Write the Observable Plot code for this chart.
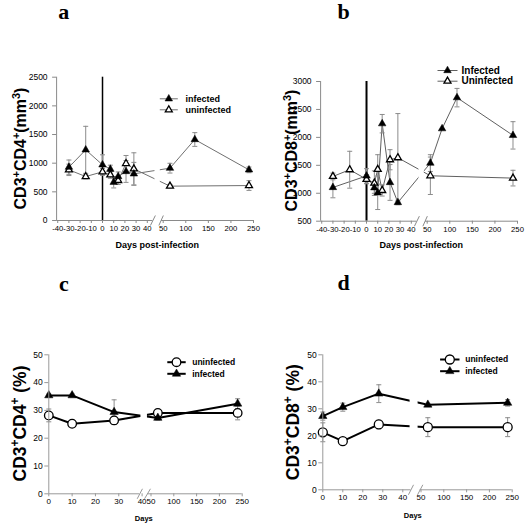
<!DOCTYPE html>
<html><head><meta charset="utf-8">
<script src="https://cdn.jsdelivr.net/npm/d3@7"></script>
<script src="https://cdn.jsdelivr.net/npm/@observablehq/plot@0.6"></script>
<style>
html,body{margin:0;padding:0;background:#fff;}
#root{position:relative;width:528px;height:525px;overflow:hidden;}
.panel{position:absolute;}
.panel svg{display:block;}
</style></head><body><div id="root"></div>
<script>
// ---------------- data ----------------
// Panel a: CD3+CD4+ (cells/mm3)
const daysA_inf = [-30, -15, 0, 7, 10, 14, 21, 28, 65, 120, 240];
const valA_inf  = [930, 1233, 971, 895, 668, 767, 855, 814, 913, 1413, 884];
const errA_inf  = [125, 410, 175, 70, 100, 80, 190, 200, 85, 120, 50];
const daysA_un  = [-30, -15, 0, 7, 14, 21, 28, 65, 240];
const valA_un   = [884, 767, 849, 797, 698, 994, 901, 599, 610];
const errA_un   = [100, 40, 60, 60, 70, 140, 280, 30, 85];

// Panel b: CD3+CD8+ (cells/mm3)
const daysB_inf = [-30, 0, 7, 10, 14, 21, 28, 57, 83, 116, 240];
const valB_inf  = [1104, 1310, 1099, 1009, 2245, 1193, 835, 1540, 2156, 2711, 2036];
const errB_inf  = [185, 130, 100, 300, 165, 320, 40, 150, 0, 165, 245];
const daysB_un  = [-30, -15, 0, 7, 10, 14, 21, 28, 57, 240];
const valB_un   = [1301, 1421, 1250, 1181, 1427, 1050, 1600, 1636, 1313, 1271];
const errB_un   = [60, 330, 80, 220, 263, 100, 180, 790, 335, 140];

// Panels c, d: percentages
const daysCD    = [0, 10, 28, 65, 240];
const valC_un   = [28.2, 25.2, 26.4, 29.1, 29.1];
const errC_un   = [2.3, 0.5, 1.5, 0.8, 2.5];
const valC_inf  = [35.4, 35.4, 29.4, 27.3, 32.4];
const errC_inf  = [0.5, 0.5, 4.4, 0.8, 1.8];
const valD_un   = [21.3, 18.0, 24.2, 23.2, 23.2];
const errD_un   = [3.5, 0.5, 1.6, 3.5, 3.5];
const valD_inf  = [27.3, 30.6, 35.6, 31.5, 32.2];
const errD_inf  = [1.5, 1.5, 3.3, 0.5, 1.2];

// tick labels
const ticksAB_x = [-40, -30, -20, -10, 0, 10, 20, 30, 40, 50, 100, 150, 200, 250];
const ticksCD_x = [0, 10, 20, 30, 40, 50, 100, 150, 200, 250];
const ticksA_y  = [0, 500, 1000, 1500, 2000, 2500];
const ticksB_y  = [500, 1000, 1500, 2000, 2500, 3000];
const ticksCD_y = [0, 10, 20, 30, 40, 50];

// text
const lettersTxt = ["a", "b", "c", "d"];
const titleA = [["CD3"], ["+", 1], ["CD4"], ["+", 1], ["(mm"], ["3", 1], [")"]];
const titleB = [["CD3"], ["+", 1], ["CD8"], ["+", 1], ["(mm"], ["3", 1], [")"]];
const titleC = [["CD3"], ["+", 1], ["CD4"], ["+", 1], [" (%)"]];
const titleD = [["CD3"], ["+", 1], ["CD8"], ["+", 1], [" (%)"]];
const xTitleAB = "Days post-infection";
const xTitleCD = "Days";
const legendA = ["infected", "uninfected"];
const legendB = ["Infected", "Uninfected"];
const legendCD = ["uninfected", "infected"];

// ---------------- helpers ----------------
const rows = (days, vals, errs) => days.map((d, i) => ({day: d, v: vals[i], e: errs[i], lo: vals[i] - errs[i], hi: vals[i] + errs[i]}));
const hline = {draw(ctx, size) { const h = Math.sqrt(size / Math.PI); ctx.moveTo(-h, 0); ctx.lineTo(h, 0); }};
const SANS = "'Liberation Sans', Arial, Helvetica, sans-serif";
const SERIF = "'Liberation Serif', 'Times New Roman', serif";
const ERR = "#8c8c8c";

function makePanel(cfg) {
  const {width, height, mL, mR, mT, mB, xDomain, xRange, yDomain, xTicks, yTicks, series, brk, zeroLine, axisColor} = cfg;
  const at = (px, py) => ({frameAnchor: "top-left", dx: px - mL, dy: py - mT, lineAnchor: "middle"});
  const y0 = yDomain[0], y1 = yDomain[1];
  const marks = [];
  for (const s of series) marks.push(Plot.line(s.rows, {x: "day", y: "v", stroke: s.lineColor, strokeWidth: s.lineWidth}));
  marks.push(Plot.rect([0], {x1: brk.gap[0], x2: brk.gap[1], y1: y0, y2: y1, fill: "white"}));
  if (zeroLine) marks.push(Plot.ruleX([0], {y1: y0, y2: y1, stroke: "black", strokeWidth: zeroLine}));
  for (const s of series) {
    const er = s.rows.filter(d => d.e > 0);
    marks.push(Plot.ruleX(er, {x: "day", y1: "lo", y2: "hi", stroke: ERR, strokeWidth: 1}));
    marks.push(Plot.dot(er, {x: "day", y: "lo", symbol: hline, r: cfg.capR, stroke: ERR, fill: "none", strokeWidth: 1}));
    marks.push(Plot.dot(er, {x: "day", y: "hi", symbol: hline, r: cfg.capR, stroke: ERR, fill: "none", strokeWidth: 1}));
  }
  for (const s of series) marks.push(Plot.dot(s.rows, {x: "day", y: "v", symbol: s.symbol, r: s.r, fill: s.fill, stroke: "black", strokeWidth: s.sw}));
  // axes
  marks.push(Plot.ruleX([xDomain[0]], {y1: y0, y2: y1, stroke: axisColor}));
  marks.push(Plot.ruleY([y0], {x1: xDomain[0], x2: brk.leftEnd, stroke: axisColor}));
  marks.push(Plot.ruleY([y0], {x1: brk.rightStart, x2: xDomain[xDomain.length - 1], stroke: axisColor}));
  marks.push(Plot.link(brk.marks, {x1: d => d[0], x2: d => d[1], y1: y0 - brk.dy, y2: y0 + brk.dy, stroke: axisColor}));
  marks.push(Plot.axisX({ticks: xTicks, tickFormat: d => String(d), tickSize: 3, tickPadding: 2, fontSize: cfg.xTickFs, stroke: axisColor, label: null}));
  marks.push(Plot.axisY({ticks: yTicks, tickFormat: d => String(d), tickSize: 4, tickPadding: cfg.yPad, fontSize: cfg.yTickFs, stroke: axisColor, label: null}));
  // legend
  cfg.legend.rows.forEach((r) => {
    const L = cfg.legend;
    marks.push(Plot.dot([0], {...at(L.lineCx, r.y), symbol: hline, r: L.lineR, stroke: r.lineColor, strokeWidth: r.lineWidth, fill: "none"}));
    marks.push(Plot.dot([0], {...at(L.lineCx, r.y), symbol: r.symbol, r: r.r, fill: r.fill, stroke: "black", strokeWidth: r.sw}));
    marks.push(Plot.text([r.text], {...at(L.textX, r.y), text: d => d, textAnchor: "start", fontSize: L.fs, fontWeight: "bold", fill: "black"}));
  });
  // letter, titles
  marks.push(Plot.text([cfg.letter.t], {...at(cfg.letter.x, cfg.letter.y), text: d => d, textAnchor: "middle", fontFamily: SERIF, fontWeight: "bold", fontSize: 22, fill: "black"}));
  const ytStr = cfg.yTitle.parts.map(p => p[0]).join("");
  marks.push(Plot.text([ytStr], {...at(cfg.yTitle.x, cfg.yTitle.y), text: d => d, textAnchor: "middle", rotate: -90, fontSize: cfg.yTitle.fs, fontWeight: "bold", fill: "black"}));
  marks.push(Plot.text([cfg.xTitle.t], {...at(cfg.xTitle.x, cfg.xTitle.y), text: d => d, textAnchor: "middle", fontSize: cfg.xTitle.fs, fontWeight: "bold", fill: "black"}));

  const svg = Plot.plot({
    width, height, marginLeft: mL, marginRight: mR, marginTop: mT, marginBottom: mB,
    x: {type: "linear", domain: xDomain, range: xRange, label: null},
    y: {type: "linear", domain: yDomain, label: null},
    style: {fontFamily: SANS, background: "white", color: "black", overflow: "visible"},
    marks
  });
  // superscripts in y title
  const ns = "http://www.w3.org/2000/svg";
  svg.querySelectorAll("text").forEach(t => {
    if (t.textContent === ytStr && !t.querySelector("tspan")) {
      t.textContent = "";
      for (const [s, sup] of cfg.yTitle.parts) {
        const ts = document.createElementNS(ns, "tspan");
        ts.textContent = s;
        if (sup) { ts.setAttribute("baseline-shift", "super"); ts.setAttribute("font-size", "68%"); }
        t.appendChild(ts);
      }
    }
  });
  const div = document.createElement("div");
  div.className = "panel";
  div.style.left = cfg.left + "px";
  div.style.top = cfg.top + "px";
  div.appendChild(svg);
  document.getElementById("root").appendChild(div);
}

const abX = {xDomain: [-41, 45, 50, 250], xRange: [56.1, 152.4, 162.7, 253]};
const abBrk = (dy) => ({gap: [46, 48.6], leftEnd: 45, rightStart: 49.2, marks: [[42.8, 46.2], [47.9, 50.3]], dy});

// ---------- panel a ----------
makePanel({
  left: 0, top: 0, width: 264, height: 260, mL: 56.1, mR: 11, mT: 76.7, mB: 40,
  ...abX, yDomain: [0, 2500], xTicks: ticksAB_x, yTicks: ticksA_y,
  xTickFs: 7.7, yTickFs: 8.5, yPad: 5, capR: 2.5, axisColor: "#8a8a8a", zeroLine: 1.5,
  brk: abBrk(87),
  series: [
    {rows: rows(daysA_un, valA_un, errA_un), lineColor: "#707070", lineWidth: 1, symbol: "triangle", r: 2.6, fill: "white", sw: 1.3},
    {rows: rows(daysA_inf, valA_inf, errA_inf), lineColor: "#707070", lineWidth: 1, symbol: "triangle", r: 2.8, fill: "black", sw: 0.5}
  ],
  legend: {lineCx: 168.3, lineR: 9, textX: 185, fs: 9, rows: [
    {y: 98.3, text: legendA[0], lineColor: "#707070", lineWidth: 1, symbol: "triangle", r: 2.8, fill: "black", sw: 0.5},
    {y: 109.3, text: legendA[1], lineColor: "#707070", lineWidth: 1, symbol: "triangle", r: 2.6, fill: "white", sw: 1.3}
  ]},
  letter: {t: lettersTxt[0], x: 63.3, y: 11.3},
  yTitle: {parts: titleA, x: 20.5, y: 148, fs: 16},
  xTitle: {t: xTitleAB, x: 156.7, y: 244.6, fs: 9}
});

// ---------- panel b ----------
makePanel({
  left: 264, top: 0, width: 264, height: 260, mL: 56.1, mR: 11, mT: 81, mB: 39.3,
  ...abX, yDomain: [500, 3000], xTicks: ticksAB_x, yTicks: ticksB_y,
  xTickFs: 7.7, yTickFs: 8.5, yPad: 5, capR: 2.5, axisColor: "#8a8a8a", zeroLine: 2,
  brk: abBrk(90),
  series: [
    {rows: rows(daysB_un, valB_un, errB_un), lineColor: "#606060", lineWidth: 1, symbol: "triangle", r: 2.6, fill: "white", sw: 1.3},
    {rows: rows(daysB_inf, valB_inf, errB_inf), lineColor: "#606060", lineWidth: 1, symbol: "triangle", r: 2.8, fill: "black", sw: 0.5}
  ],
  legend: {lineCx: 183, lineR: 10, textX: 197, fs: 10, rows: [
    {y: 70, text: legendB[0], lineColor: "#606060", lineWidth: 1, symbol: "triangle", r: 2.8, fill: "black", sw: 0.5},
    {y: 80.7, text: legendB[1], lineColor: "#606060", lineWidth: 1, symbol: "triangle", r: 2.6, fill: "white", sw: 1.3}
  ]},
  letter: {t: lettersTxt[1], x: 79, y: 11.3},
  yTitle: {parts: titleB, x: 27.5, y: 150, fs: 16},
  xTitle: {t: xTitleAB, x: 156.7, y: 244.6, fs: 9}
});

// ---------- panel c ----------
makePanel({
  left: 0, top: 260, width: 264, height: 265, mL: 48.3, mR: 22.3, mT: 94.3, mB: 31.7,
  xDomain: [0, 40, 50, 250], xRange: [48.3, 141.6, 150.5, 241.7], yDomain: [0, 50],
  xTicks: ticksCD_x, yTicks: ticksCD_y,
  xTickFs: 8, yTickFs: 8.5, yPad: 2, capR: 2.5, axisColor: "#999999", zeroLine: 0,
  brk: {gap: [39.5, 46], leftEnd: 39, rightStart: 46.5, marks: [[37.9, 40.4], [42.7, 49.4]], dy: 1.8},
  series: [
    {rows: rows(daysCD, valC_un, errC_un), lineColor: "black", lineWidth: 2, symbol: "circle", r: 4.3, fill: "white", sw: 1.3},
    {rows: rows(daysCD, valC_inf, errC_inf), lineColor: "black", lineWidth: 2, symbol: "triangle", r: 3.1, fill: "black", sw: 0.5}
  ],
  legend: {lineCx: 176, lineR: 9.2, textX: 191.7, fs: 8.5, rows: [
    {y: 101.7, text: legendCD[0], lineColor: "black", lineWidth: 2, symbol: "circle", r: 4.3, fill: "white", sw: 1.3},
    {y: 113.3, text: legendCD[1], lineColor: "black", lineWidth: 2, symbol: "triangle", r: 3.1, fill: "black", sw: 0.5}
  ]},
  letter: {t: lettersTxt[2], x: 63.3, y: 23},
  yTitle: {parts: titleC, x: 19.5, y: 163, fs: 17.5},
  xTitle: {t: xTitleCD, x: 143.3, y: 257.6, fs: 7.5}
});

// ---------- panel d ----------
makePanel({
  left: 264, top: 260, width: 264, height: 265, mL: 58.3, mR: 16.3, mT: 94.3, mB: 35.7,
  xDomain: [0, 40, 50, 250], xRange: [58.3, 138.3, 156.5, 247.7], yDomain: [0, 50],
  xTicks: ticksCD_x, yTicks: ticksCD_y,
  xTickFs: 8, yTickFs: 8.5, yPad: 2, capR: 2.5, axisColor: "#999999", zeroLine: 0,
  brk: {gap: [44, 48.4], leftEnd: 44.5, rightStart: 49.5, marks: [[43.1, 45.9], [48.1, 54]], dy: 1.85},
  series: [
    {rows: rows(daysCD, valD_un, errD_un), lineColor: "black", lineWidth: 2, symbol: "circle", r: 4.5, fill: "white", sw: 1.3},
    {rows: rows(daysCD, valD_inf, errD_inf), lineColor: "black", lineWidth: 2, symbol: "triangle", r: 3.1, fill: "black", sw: 0.5}
  ],
  legend: {lineCx: 185.3, lineR: 9.7, textX: 200.7, fs: 8.5, rows: [
    {y: 99, text: legendCD[0], lineColor: "black", lineWidth: 2, symbol: "circle", r: 4.5, fill: "white", sw: 1.3},
    {y: 110.7, text: legendCD[1], lineColor: "black", lineWidth: 2, symbol: "triangle", r: 3.1, fill: "black", sw: 0.5}
  ]},
  letter: {t: lettersTxt[3], x: 79, y: 22.3},
  yTitle: {parts: titleD, x: 29, y: 161.7, fs: 17.5},
  xTitle: {t: xTitleCD, x: 148.3, y: 254.6, fs: 7.5}
});
</script>
</body></html>
